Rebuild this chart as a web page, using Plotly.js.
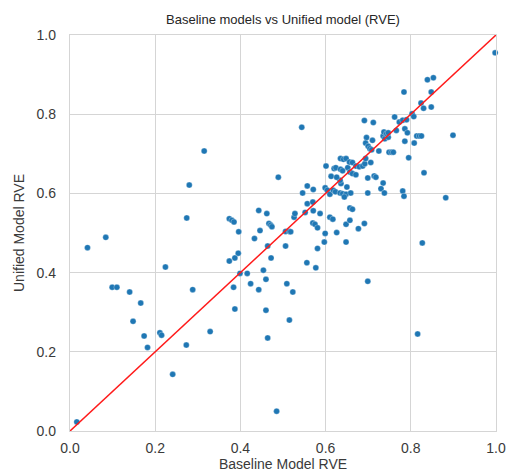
<!DOCTYPE html>
<html>
<head>
<meta charset="utf-8">
<script src="https://cdn.plot.ly/plotly-3.0.1.min.js"></script>
<style>
  html, body { margin: 0; padding: 0; background: #ffffff; }
  #chart { width: 510px; height: 474px; }
</style>
</head>
<body>
<div id="chart"></div>
<script>
// RVE per task: baseline model (x) vs unified model (y)
const baselineRVE = [
  0.016, 0.041, 0.084, 0.099, 0.110, 0.140, 0.148, 0.166, 0.174, 0.182,
  0.211, 0.215, 0.224, 0.241, 0.273, 0.274, 0.280, 0.288, 0.315, 0.329,
  0.374, 0.380, 0.385, 0.374, 0.387, 0.395, 0.396, 0.384, 0.387, 0.399,
  0.416, 0.424, 0.433, 0.443, 0.462, 0.446, 0.443, 0.454, 0.460, 0.460,
  0.464, 0.472, 0.464, 0.485, 0.467, 0.471, 0.474, 0.489, 0.506, 0.515,
  0.518, 0.506, 0.509, 0.523, 0.515, 0.526, 0.528, 0.544, 0.552, 0.546,
  0.557, 0.571, 0.557, 0.570, 0.571, 0.587, 0.570, 0.575, 0.581, 0.556,
  0.577, 0.581, 0.597, 0.599, 0.626, 0.648, 0.648, 0.657, 0.691, 0.677,
  0.610, 0.617, 0.657, 0.663, 0.599, 0.604, 0.610, 0.618, 0.623, 0.634,
  0.640, 0.648, 0.659, 0.644, 0.650, 0.636, 0.634, 0.613, 0.626, 0.601,
  0.620, 0.624, 0.635, 0.640, 0.635, 0.642, 0.648, 0.652, 0.656, 0.663,
  0.657, 0.663, 0.671, 0.671, 0.679, 0.687, 0.692, 0.694, 0.706, 0.699,
  0.714, 0.718, 0.735, 0.730, 0.738, 0.699, 0.699, 0.691, 0.712, 0.696,
  0.710, 0.694, 0.700, 0.704, 0.708, 0.725, 0.735, 0.739, 0.747, 0.737,
  0.743, 0.747, 0.749, 0.755, 0.759, 0.766, 0.762, 0.773, 0.781, 0.790,
  0.786, 0.792, 0.786, 0.808, 0.795, 0.781, 0.784, 0.803, 0.807, 0.784,
  0.814, 0.820, 0.825, 0.824, 0.830, 0.848, 0.848, 0.839, 0.853, 0.831,
  0.827, 0.816, 0.882, 0.899, 0.998
];
const unifiedRVE = [
  0.023, 0.463, 0.489, 0.363, 0.363, 0.351, 0.277, 0.323, 0.240, 0.211,
  0.248, 0.242, 0.414, 0.143, 0.217, 0.538, 0.621, 0.357, 0.707, 0.251,
  0.536, 0.532, 0.528, 0.429, 0.437, 0.449, 0.503, 0.363, 0.308, 0.398,
  0.398, 0.372, 0.486, 0.557, 0.549, 0.506, 0.357, 0.406, 0.383, 0.305,
  0.467, 0.437, 0.235, 0.050, 0.524, 0.520, 0.516, 0.641, 0.504, 0.504,
  0.503, 0.467, 0.372, 0.351, 0.280, 0.540, 0.549, 0.767, 0.552, 0.601,
  0.619, 0.610, 0.574, 0.578, 0.556, 0.549, 0.525, 0.522, 0.513, 0.425,
  0.412, 0.461, 0.477, 0.499, 0.501, 0.477, 0.522, 0.532, 0.524, 0.511,
  0.540, 0.535, 0.563, 0.560, 0.614, 0.608, 0.598, 0.608, 0.604, 0.601,
  0.599, 0.598, 0.601, 0.591, 0.616, 0.625, 0.633, 0.643, 0.641, 0.669,
  0.663, 0.665, 0.661, 0.657, 0.688, 0.686, 0.688, 0.665, 0.679, 0.678,
  0.654, 0.650, 0.647, 0.669, 0.667, 0.669, 0.675, 0.688, 0.678, 0.639,
  0.644, 0.641, 0.626, 0.612, 0.601, 0.601, 0.378, 0.784, 0.779, 0.741,
  0.734, 0.727, 0.719, 0.713, 0.710, 0.707, 0.745, 0.738, 0.742, 0.755,
  0.751, 0.753, 0.704, 0.704, 0.704, 0.759, 0.793, 0.780, 0.785, 0.786,
  0.763, 0.753, 0.732, 0.727, 0.690, 0.606, 0.593, 0.801, 0.794, 0.856,
  0.745, 0.745, 0.745, 0.828, 0.815, 0.818, 0.856, 0.887, 0.892, 0.652,
  0.475, 0.245, 0.589, 0.747, 0.955
];

// identity reference line y = x
const identityLine = [0, 1];

const tickVals = [0, 0.2, 0.4, 0.6, 0.8, 1.0];
const tickText = ['0.0', '0.2', '0.4', '0.6', '0.8', '1.0'];

const gridColor = '#d5d5d5';
const textColor = '#3a3a3a';
const fontFamily = 'Liberation Sans, Arial, sans-serif';

const traces = [
  {
    type: 'scatter',
    mode: 'markers',
    x: baselineRVE,
    y: unifiedRVE,
    cliponaxis: false,
    marker: {
      color: '#1f77b4',
      size: 6,
      line: { color: '#ffffff', width: 0.3 }
    },
    hoverinfo: 'x+y',
    showlegend: false
  },
  {
    type: 'scatter',
    mode: 'lines',
    x: identityLine,
    y: identityLine,
    line: { color: '#ff1a1a', width: 1.5 },
    hoverinfo: 'skip',
    showlegend: false
  }
];

const axisCommon = {
  range: [0, 1],
  tickvals: tickVals,
  ticktext: tickText,
  showgrid: true,
  gridcolor: gridColor,
  gridwidth: 1,
  zeroline: false,
  showline: true,
  linecolor: gridColor,
  linewidth: 1.2,
  mirror: true,
  ticks: '',
  tickfont: { family: fontFamily, size: 14, color: textColor },
  fixedrange: true
};

const layout = {
  width: 510,
  height: 474,
  margin: { l: 70, r: 14, t: 35, b: 43 },
  paper_bgcolor: '#ffffff',
  plot_bgcolor: '#ffffff',
  font: { family: fontFamily, color: textColor },
  title: {
    text: 'Baseline models vs Unified model (RVE)',
    font: { family: fontFamily, size: 13, color: '#262626' },
    x: 0.5,
    xref: 'paper',
    xanchor: 'center',
    y: 1,
    yref: 'paper',
    yanchor: 'bottom',
    pad: { b: 11 }
  },
  xaxis: Object.assign({}, axisCommon, {
    title: { text: 'Baseline Model RVE', font: { family: fontFamily, size: 14, color: textColor }, standoff: 4 },
    ticklabelstandoff: 4
  }),
  yaxis: Object.assign({}, axisCommon, {
    title: { text: 'Unified Model RVE', font: { family: fontFamily, size: 14, color: textColor }, standoff: 8 },
    ticklabelstandoff: 10
  })
};

Plotly.newPlot('chart', traces, layout, { displayModeBar: false, staticPlot: true });
</script>
</body>
</html>
